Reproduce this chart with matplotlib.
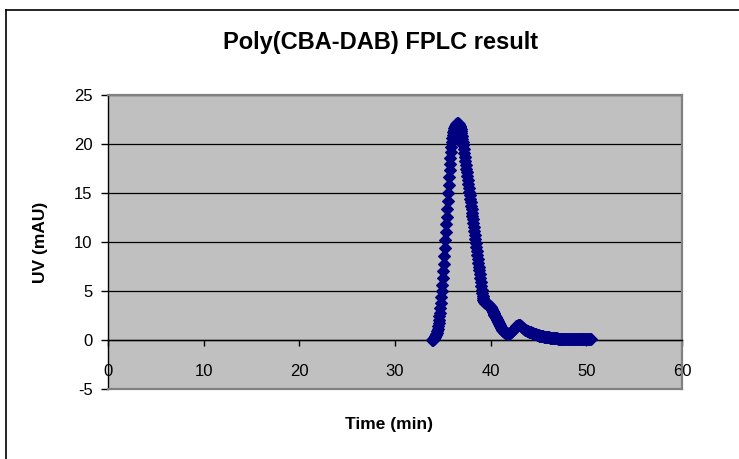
import matplotlib
matplotlib.use("Agg")
import matplotlib.pyplot as plt
from matplotlib.lines import Line2D

# ---- data (time in min, UV in mAU) ----
time_min = [
    33.90, 33.95,
    34.00, 34.05, 34.10, 34.15, 34.20, 34.25, 34.30, 34.35, 34.40, 34.45,
    34.50, 34.55, 34.60, 34.65, 34.70, 34.75, 34.80, 34.85, 34.90, 34.95,
    35.00, 35.05, 35.10, 35.15, 35.20, 35.25, 35.30, 35.35, 35.40, 35.45,
    35.50, 35.55, 35.60, 35.65, 35.70, 35.75, 35.80, 35.85, 35.90, 35.95,
    36.00, 36.05, 36.10, 36.15, 36.20, 36.25, 36.30, 36.35, 36.40, 36.45,
    36.50, 36.55, 36.60, 36.65, 36.70, 36.75, 36.80, 36.85, 36.90, 36.95,
    37.00, 37.05, 37.10, 37.15, 37.20, 37.25, 37.30, 37.35, 37.40, 37.45,
    37.50, 37.55, 37.60, 37.65, 37.70, 37.75, 37.80, 37.85, 37.90, 37.95,
    38.00, 38.05, 38.10, 38.15, 38.20, 38.25, 38.30, 38.35, 38.40, 38.45,
    38.50, 38.55, 38.60, 38.65, 38.70, 38.75, 38.80, 38.85, 38.90, 38.95,
    39.00, 39.05, 39.10, 39.15, 39.20, 39.25, 39.30, 39.35, 39.40, 39.45,
    39.50, 39.55, 39.60, 39.65, 39.70, 39.75, 39.80, 39.85, 39.90, 39.95,
    40.00, 40.05, 40.10, 40.15, 40.20, 40.25, 40.30, 40.35, 40.40, 40.45,
    40.50, 40.55, 40.60, 40.65, 40.70, 40.75, 40.80, 40.85, 40.90, 40.95,
    41.00, 41.05, 41.10, 41.15, 41.20, 41.25, 41.30, 41.35, 41.40, 41.45,
    41.50, 41.55, 41.60, 41.65, 41.70, 41.75, 41.80, 41.85, 41.90, 41.95,
    42.0, 42.1, 42.2, 42.3, 42.4, 42.5, 42.6, 42.7, 42.8, 42.9,
    43.0, 43.1, 43.2, 43.3, 43.4, 43.5, 43.6, 43.7, 43.8, 43.9,
    44.0, 44.1, 44.2, 44.3, 44.4, 44.5, 44.6, 44.7, 44.8, 44.9,
    45.0, 45.1, 45.2, 45.3, 45.4, 45.5, 45.6, 45.7, 45.8, 45.9,
    46.0, 46.1, 46.2, 46.3, 46.4, 46.5, 46.6, 46.7, 46.8, 46.9,
    47.0, 47.1, 47.2, 47.3, 47.4, 47.5, 47.6, 47.7, 47.8, 47.9,
    48.0, 48.1, 48.2, 48.3, 48.4, 48.5, 48.6, 48.7, 48.8, 48.9,
    49.0, 49.1, 49.2, 49.3, 49.4, 49.5, 49.6, 49.7, 49.8, 49.9,
    50.0, 50.1, 50.2, 50.3, 50.4, 50.5,
]
uv_mau = [
    0.0, 0.0,
    0.1, 0.15, 0.2, 0.3, 0.4, 0.5, 0.6, 0.75, 0.9, 1.1,
    1.4, 1.7, 2.0, 2.4, 2.8, 3.3, 3.8, 4.4, 5.0, 5.6,
    6.3, 7.0, 7.8, 8.6, 9.4, 10.2, 11.0, 11.8, 12.6, 13.4,
    14.2, 15.0, 15.8, 16.6, 17.3, 18.0, 18.6, 19.2, 19.7, 20.2,
    20.6, 20.9, 21.2, 21.4, 21.6, 21.7, 21.8, 21.9, 22.0, 22.0,
    22.1, 22.1, 22.0, 22.0, 21.9, 21.8, 21.7, 21.5, 21.3, 21.1,
    20.8, 20.5, 20.2, 19.9, 19.5, 19.1, 18.7, 18.3, 17.9, 17.5,
    17.1, 16.7, 16.3, 15.9, 15.5, 15.1, 14.8, 14.4, 14.1, 13.7,
    13.4, 13.0, 12.7, 12.3, 11.9, 11.5, 11.1, 10.7, 10.3, 9.9,
    9.5, 9.1, 8.7, 8.3, 7.9, 7.5, 7.1, 6.7, 6.3, 5.9,
    5.5, 5.1, 4.8, 4.5, 4.3, 4.1, 4.0, 3.9, 3.9, 3.8,
    3.8, 3.8, 3.7, 3.7, 3.7, 3.6, 3.6, 3.5, 3.5, 3.4,
    3.4, 3.3, 3.2, 3.1, 3.0, 2.9, 2.8, 2.7, 2.6, 2.5,
    2.4, 2.3, 2.2, 2.1, 2.0, 1.9, 1.8, 1.7, 1.6, 1.5,
    1.4, 1.3, 1.2, 1.1, 1.05, 1.0, 0.95, 0.9, 0.85, 0.8,
    0.8, 0.75, 0.75, 0.7, 0.7, 0.7, 0.65, 0.65, 0.65, 0.65,
    0.7, 0.8, 0.9, 1.0, 1.1, 1.2, 1.3, 1.4, 1.45, 1.5,
    1.5, 1.5, 1.45, 1.35, 1.25, 1.15, 1.05, 1.0, 0.95, 0.9,
    0.85, 0.8, 0.8, 0.75, 0.7, 0.65, 0.6, 0.6, 0.55, 0.5,
    0.5, 0.45, 0.45, 0.4, 0.4, 0.4, 0.35, 0.35, 0.3, 0.3,
    0.3, 0.3, 0.25, 0.25, 0.25, 0.2, 0.2, 0.2, 0.2, 0.2,
    0.15, 0.15, 0.15, 0.15, 0.15, 0.15, 0.15, 0.15, 0.15, 0.15,
    0.15, 0.15, 0.15, 0.15, 0.1, 0.1, 0.1, 0.1, 0.1, 0.1,
    0.1, 0.1, 0.1, 0.1, 0.1, 0.1, 0.1, 0.1, 0.1, 0.1,
    0.1, 0.1, 0.1, 0.1, 0.1, 0.1,
]
x_ticks = [0, 10, 20, 30, 40, 50, 60]
y_ticks = [-5, 0, 5, 10, 15, 20, 25]

title = "Poly(CBA-DAB) FPLC result"
x_label = "Time (min)"
y_label = "UV (mAU)"

plt.rcParams["font.family"] = ["Liberation Sans", "DejaVu Sans"]
plt.rcParams["axes.unicode_minus"] = False

W, H = 739, 459
fig = plt.figure(figsize=(W / 100, H / 100), dpi=100)
fig.patch.set_facecolor("white")

# outer chart frame (open to right/bottom as in reference)
fig.add_artist(Line2D([5.5 / W, 5.5 / W], [1 - 9.5 / H, 0], transform=fig.transFigure,
                      color="black", lw=1.2))
fig.add_artist(Line2D([5.5 / W, 1], [1 - 9.5 / H, 1 - 9.5 / H], transform=fig.transFigure,
                      color="black", lw=1.2))

left, right, top, bottom = 108, 682, 95, 389
ax = fig.add_axes([left / W, 1 - bottom / H, (right - left) / W, (bottom - top) / H])
ax.set_facecolor("#C0C0C0")

ax.set_xlim(x_ticks[0], x_ticks[-1])
ax.set_ylim(y_ticks[0], y_ticks[-1])
ax.set_xticks(x_ticks)
ax.set_yticks(y_ticks)

ax.grid(axis="y", color="black", lw=0.9, zorder=1)
ax.set_axisbelow(True)

ax.plot(time_min, uv_mau, linestyle="none", marker="D", markersize=6.6,
        color="#000080", markeredgecolor="#000080", markeredgewidth=0.8, zorder=4,
        clip_on=False)

# spines
ax.spines["bottom"].set_position(("data", 0))
ax.spines["bottom"].set_color("black")
ax.spines["bottom"].set_linewidth(1.0)
ax.spines["left"].set_color("black")
ax.spines["left"].set_linewidth(1.0)
ax.spines["top"].set_color("#808080")
ax.spines["top"].set_linewidth(1.6)
ax.spines["right"].set_color("#808080")
ax.spines["right"].set_linewidth(1.6)
ax.axhline(y_ticks[0], color="#808080", lw=1.6, zorder=3, clip_on=False)

ax.tick_params(axis="y", direction="out", length=5, width=1, pad=6,
               labelsize=12, colors="black")
ax.tick_params(axis="x", direction="out", length=4, width=1, pad=13.5,
               labelsize=12, colors="black")

fig.text(381 / W, 1 - 43 / H, title, ha="center", va="center",
         fontsize=17, fontweight="bold")
fig.text(389 / W, 1 - 424 / H, x_label, ha="center", va="center",
         fontsize=12.5, fontweight="bold")
fig.text(40 / W, 1 - 242 / H, y_label, ha="center", va="center",
         fontsize=12.5, fontweight="bold", rotation=90)

fig.savefig("out.png", dpi=100)
